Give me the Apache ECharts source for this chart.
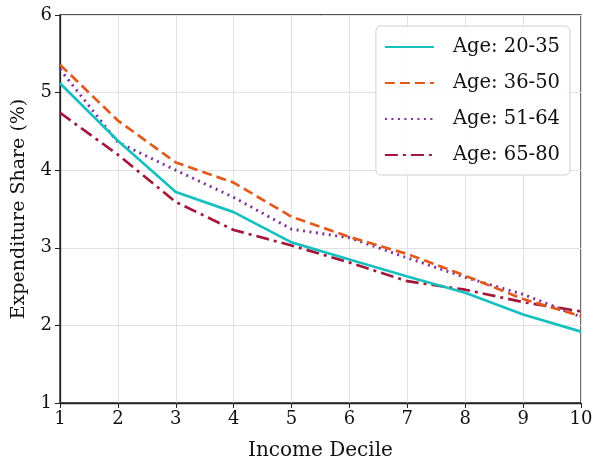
<!DOCTYPE html>
<html><head><meta charset="utf-8">
<script src="https://cdn.jsdelivr.net/npm/echarts@6/dist/echarts.min.js"></script>
<style>html,body{margin:0;padding:0;background:#fff}#c{width:595px;height:463px}</style>
</head><body><div id="c"></div>
<script>
const deciles = [1,2,3,4,5,6,7,8,9,10];
const age20_35 = [5.12,4.38,3.72,3.46,3.07,2.85,2.63,2.42,2.14,1.92];
const age36_50 = [5.36,4.64,4.10,3.84,3.40,3.14,2.92,2.64,2.34,2.12];
const age51_64 = [5.30,4.36,4.00,3.65,3.24,3.13,2.87,2.62,2.40,2.11];
const age65_80 = [4.74,4.20,3.59,3.23,3.03,2.81,2.57,2.46,2.30,2.18];
const seriesNames = ['Age: 20-35','Age: 36-50','Age: 51-64','Age: 65-80'];
const yTicks = [1,2,3,4,5,6];

const FONT = '"DejaVu Serif", serif';
const colors = ['#17bfbf','#e05a1c','#7e2f9e','#a4173a'];
const styles = [
  {type:'solid', width:2.7},
  {type:[10,5], width:2.7},
  {type:[2,4.5], width:2.9},
  {type:[13,5,3,5], width:2.7}
];
const dataSets = [age20_35, age36_50, age51_64, age65_80];

const chart = echarts.init(document.getElementById('c'), null, {renderer:'canvas'});
chart.setOption({
  animation:false,
  backgroundColor:'#fff',
  grid:{left:60,right:14,top:15,bottom:60,containLabel:false,outerBoundsMode:'none',
    show:true,borderColor:'#222',borderWidth:1.3,backgroundColor:'transparent'},
  xAxis:{type:'value',min:1,max:10,interval:1,
    name:'Income Decile',nameLocation:'middle',nameGap:38,
    nameTextStyle:{fontFamily:FONT,fontSize:20,color:'#111'},
    axisLine:{show:true,lineStyle:{color:'#222',width:1.3}},
    axisTick:{show:true,length:5,lineStyle:{color:'#222'}},
    axisLabel:{fontFamily:FONT,fontSize:18,color:'#111',margin:7},
    splitLine:{show:true,lineStyle:{color:'#e2e2e2',width:1}}},
  yAxis:{type:'value',min:1,max:6,interval:1,
    name:'Expenditure Share (%)',nameLocation:'middle',nameGap:31,nameRotate:90,
    nameTextStyle:{fontFamily:FONT,fontSize:19,color:'#111'},
    axisLine:{show:true,lineStyle:{color:'#222',width:1.3}},
    axisTick:{show:true,length:5,lineStyle:{color:'#222'}},
    axisLabel:{fontFamily:FONT,fontSize:18,color:'#111',margin:8,
      formatter:v=>yTicks.includes(v)?String(v):''},
    splitLine:{show:true,lineStyle:{color:'#e2e2e2',width:1}}},
  legend:{show:true,orient:'vertical',right:25,top:26,
    data:seriesNames,
    backgroundColor:'rgba(255,255,255,0.9)',borderColor:'#d0d0d0',borderWidth:1,borderRadius:5,
    padding:[11,10,10,8],itemGap:16,itemWidth:49,itemHeight:14,
    itemStyle:{opacity:0},
    textStyle:{fontFamily:FONT,fontSize:19.5,color:'#111',padding:[0,0,0,14]}},
  series: dataSets.map((d,i)=>({
    name:seriesNames[i],type:'line',symbol:'none',
    data:deciles.map((x,j)=>[x,d[j]]),
    lineStyle:{color:colors[i],type:styles[i].type,width:styles[i].width},
    itemStyle:{color:colors[i]},
    z:10-i
  }))
});
</script></body></html>
